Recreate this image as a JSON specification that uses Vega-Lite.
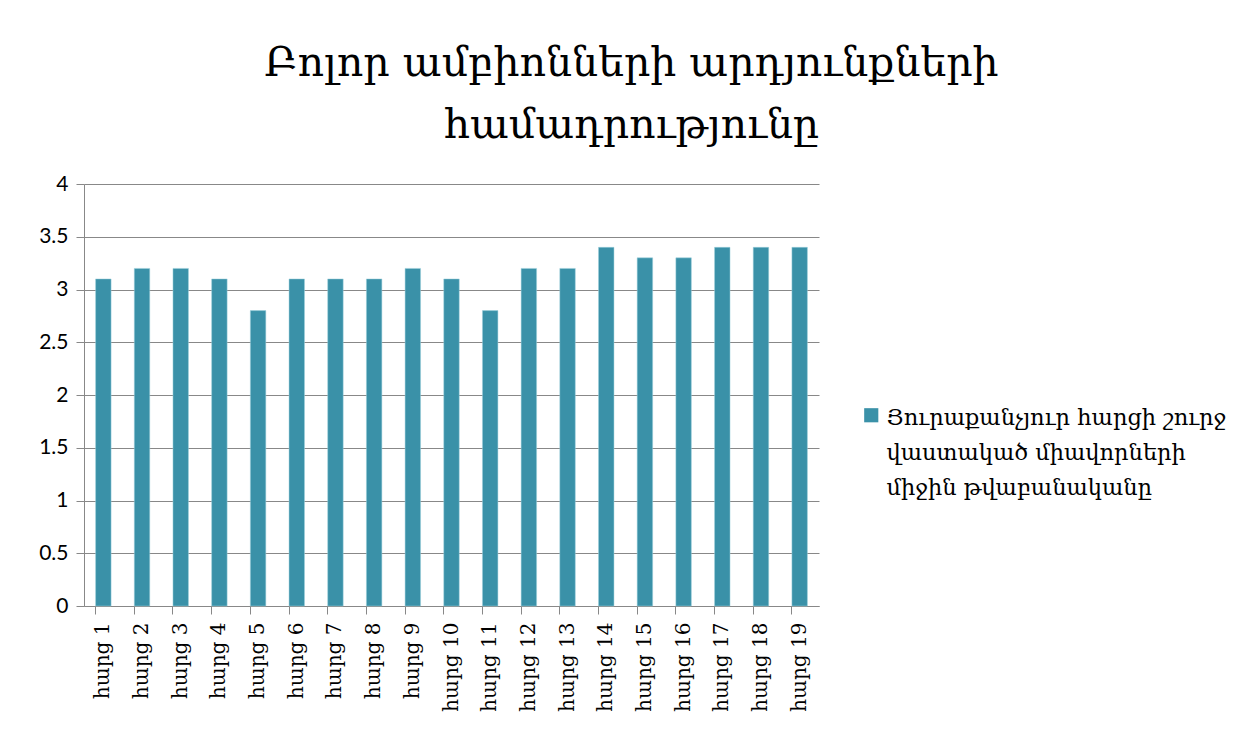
{
  "$schema": "https://vega.github.io/schema/vega-lite/v6.json",
  "width": 735,
  "height": 422,
  "autosize": "none",
  "padding": {"left": 84, "top": 184, "right": 437, "bottom": 130},
  "background": "white",
  "title": {
    "text": ["Բոլոր ամբիոնների արդյունքների", "համադրությունը"],
    "font": "DejaVu Serif",
    "fontSize": 41,
    "fontWeight": "normal",
    "color": "black",
    "lineHeight": 62,
    "anchor": "middle",
    "dx": 180,
    "offset": 26
  },
  "data": {
    "values": [
      {"q": "հարց 1", "v": 3.1, "s": "Յուրաքանչյուր հարցի շուրջ վաստակած միավորների միջին թվաբանականը"},
      {"q": "հարց 2", "v": 3.2, "s": "Յուրաքանչյուր հարցի շուրջ վաստակած միավորների միջին թվաբանականը"},
      {"q": "հարց 3", "v": 3.2, "s": "Յուրաքանչյուր հարցի շուրջ վաստակած միավորների միջին թվաբանականը"},
      {"q": "հարց 4", "v": 3.1, "s": "Յուրաքանչյուր հարցի շուրջ վաստակած միավորների միջին թվաբանականը"},
      {"q": "հարց 5", "v": 2.8, "s": "Յուրաքանչյուր հարցի շուրջ վաստակած միավորների միջին թվաբանականը"},
      {"q": "հարց 6", "v": 3.1, "s": "Յուրաքանչյուր հարցի շուրջ վաստակած միավորների միջին թվաբանականը"},
      {"q": "հարց 7", "v": 3.1, "s": "Յուրաքանչյուր հարցի շուրջ վաստակած միավորների միջին թվաբանականը"},
      {"q": "հարց 8", "v": 3.1, "s": "Յուրաքանչյուր հարցի շուրջ վաստակած միավորների միջին թվաբանականը"},
      {"q": "հարց 9", "v": 3.2, "s": "Յուրաքանչյուր հարցի շուրջ վաստակած միավորների միջին թվաբանականը"},
      {"q": "հարց 10", "v": 3.1, "s": "Յուրաքանչյուր հարցի շուրջ վաստակած միավորների միջին թվաբանականը"},
      {"q": "հարց 11", "v": 2.8, "s": "Յուրաքանչյուր հարցի շուրջ վաստակած միավորների միջին թվաբանականը"},
      {"q": "հարց 12", "v": 3.2, "s": "Յուրաքանչյուր հարցի շուրջ վաստակած միավորների միջին թվաբանականը"},
      {"q": "հարց 13", "v": 3.2, "s": "Յուրաքանչյուր հարցի շուրջ վաստակած միավորների միջին թվաբանականը"},
      {"q": "հարց 14", "v": 3.4, "s": "Յուրաքանչյուր հարցի շուրջ վաստակած միավորների միջին թվաբանականը"},
      {"q": "հարց 15", "v": 3.3, "s": "Յուրաքանչյուր հարցի շուրջ վաստակած միավորների միջին թվաբանականը"},
      {"q": "հարց 16", "v": 3.3, "s": "Յուրաքանչյուր հարցի շուրջ վաստակած միավորների միջին թվաբանականը"},
      {"q": "հարց 17", "v": 3.4, "s": "Յուրաքանչյուր հարցի շուրջ վաստակած միավորների միջին թվաբանականը"},
      {"q": "հարց 18", "v": 3.4, "s": "Յուրաքանչյուր հարցի շուրջ վաստակած միավորների միջին թվաբանականը"},
      {"q": "հարց 19", "v": 3.4, "s": "Յուրաքանչյուր հարցի շուրջ վաստակած միավորների միջին թվաբանականը"}
    ]
  },
  "mark": {"type": "bar", "stroke": "#9fd0dc", "strokeWidth": 0.5},
  "encoding": {
    "x": {
      "field": "q",
      "type": "nominal",
      "sort": null,
      "scale": {"paddingInner": 0.6, "paddingOuter": 0.3},
      "axis": {
        "title": null,
        "labelAngle": -90,
        "labelAlign": "right",
        "labelBaseline": "middle",
        "labelFont": "DejaVu Serif",
        "labelFontSize": 20,
        "labelColor": "black",
        "labelPadding": 8,
        "bandPosition": 0,
        "tickSize": 8,
        "tickColor": "#888888",
        "domainColor": "#888888",
        "grid": false
      }
    },
    "y": {
      "field": "v",
      "type": "quantitative",
      "scale": {"domain": [0, 4]},
      "axis": {
        "title": null,
        "values": [0, 0.5, 1, 1.5, 2, 2.5, 3, 3.5, 4],
        "format": "~g",
        "labelFont": "Lato",
        "labelFontSize": 21,
        "labelColor": "black",
        "labelPadding": 8,
        "tickSize": 8,
        "tickColor": "#888888",
        "domainColor": "#888888",
        "gridColor": "#888888",
        "gridOpacity": 1
      }
    },
    "color": {
      "field": "s",
      "type": "nominal",
      "scale": {"range": ["#3A91A8"]},
      "legend": {
        "title": null,
        "orient": "none",
        "legendX": 776,
        "legendY": 220,
        "symbolType": "square",
        "symbolSize": 200,
        "symbolStrokeWidth": 0,
        "labelFont": "DejaVu Serif",
        "labelFontSize": 22.5,
        "labelColor": "black",
        "labelLimit": 400,
        "labelBaseline": "top",
        "labelOffset": 4,
        "labelExpr": "['Յուրաքանչյուր հարցի շուրջ', 'վաստակած միավորների', 'միջին թվաբանականը']",
        "encoding": {"labels": {"lineHeight": {"value": 35}, "dy": {"value": -8}}}
      }
    }
  },
  "config": {
    "view": {"stroke": null}
  }
}
